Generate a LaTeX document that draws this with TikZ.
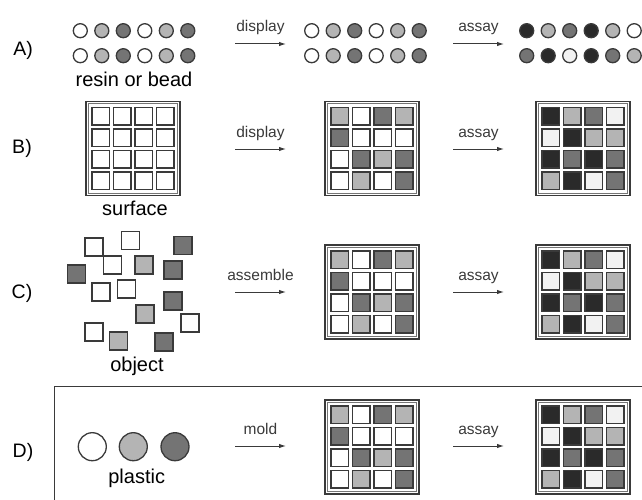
\documentclass[tikz,border=0pt]{standalone}
\usepackage{fontspec}
\setmainfont{Liberation Sans}
\usetikzlibrary{arrows.meta}

\definecolor{lt}{HTML}{B4B4B4}
\definecolor{md}{HTML}{747474}
\definecolor{dk}{HTML}{2A2A2A}
\definecolor{vl}{HTML}{F2F2F2}
\definecolor{ln}{HTML}{3A3A3A}

% one 4x4 plate: name, centre, fill colours row by row
\newcommand{\wellplate}[3]{%
  \node[platebox] (#1) at (#2) {};
  \draw[ln!70, line width=0.6pt] ([shift={(2.3,2.3)}]#1.north west) rectangle ([shift={(-2.3,-2.3)}]#1.south east);
  \foreach \cc [count=\i from 0] in {#3} {
    \pgfmathtruncatemacro\cx{mod(\i,4)}
    \pgfmathtruncatemacro\cy{div(\i,4)}
    \node[cell, fill=\cc] (#1-\i) at ([shift={(14.75+\cx*21.5,14.75+\cy*21.5)}]#1.north west) {};
  }
}

\begin{document}
\begin{tikzpicture}[
x=1pt, y=-1pt,
platebox/.style={draw=ln, line width=1.4pt, minimum size=94pt, inner sep=0pt, outer sep=0pt},
cell/.style={draw=ln, line width=1.4pt, minimum size=17.5pt, inner sep=0pt},
bead/.style={circle, draw=ln, line width=1.3pt, minimum size=14pt, inner sep=0pt},
chip/.style={draw=ln, line width=1.4pt, minimum size=18pt, inner sep=0pt},
pellet/.style={circle, draw=ln, line width=1.3pt, minimum size=28pt, inner sep=0pt},
rowlbl/.style={font=\fontsize{19.5}{22}\selectfont},
matlbl/.style={font=\fontsize{20}{24}\selectfont},
steplbl/.style={font=\fontsize{15.5}{18}\selectfont, anchor=base, yshift=12pt},
arrow/.style={-{Latex[length=7pt,width=4.5pt]}, line width=1pt, ln}
]
\useasboundingbox (0,0) rectangle (642,500);
\clip (0,0) rectangle (642,500);

% row labels
\node[rowlbl] (la) at (23,50) {A)};
\node[rowlbl] (lb) at (22,148) {B)};
\node[rowlbl] (lc) at (22,293) {C)};
\node[rowlbl] (ld) at (23,452) {D)};

% A) beads
\foreach \cc [count=\k from 0] in {white,lt,md,white,lt,md} {
  \node[bead, fill=\cc] (b1-\k) at (80.3+21.5*\k,30.7) {};
  \node[bead, fill=\cc] (b2-\k) at (80.3+21.5*\k,55.7) {};
  \node[bead, fill=\cc] (c1-\k) at (311.7+21.5*\k,30.7) {};
  \node[bead, fill=\cc] (c2-\k) at (311.7+21.5*\k,55.7) {};
}
\foreach \cc [count=\k from 0] in {dk,lt,md,dk,lt,white}
  \node[bead, fill=\cc] (d1-\k) at (526.7+21.5*\k,30.7) {};
\foreach \cc [count=\k from 0] in {md,dk,vl,dk,md,lt}
  \node[bead, fill=\cc] (d2-\k) at (526.7+21.5*\k,55.7) {};
\node[matlbl] (resin) at (134,79) {resin or bead};

% B) surface
\wellplate{s1}{133,148.5}{white,white,white,white,white,white,white,white,white,white,white,white,white,white,white,white}
\node[matlbl] (surf) at (135,208) {surface};

% C) loose objects
\foreach \x/\y/\cc [count=\k] in {94/247/white, 130.5/240.5/white, 183/245.5/md, 112.5/265/white,
  144/265/lt, 173/270/md, 76.5/274/md, 101/292/white, 126.5/289/white, 173/301/md,
  145/314/lt, 190/323/white, 94/332/white, 118.5/341/lt, 164/342/md}
  \node[chip, fill=\cc] (o-\k) at (\x,\y) {};
\node[matlbl] (obj) at (137,366) {object};

% D) plastic
\draw[line width=1.3pt, ln] (54.5,520) |- (700,386.5);
\node[pellet, fill=white] (p1) at (92.3,446.7) {};
\node[pellet, fill=lt] (p2) at (133.3,446.7) {};
\node[pellet, fill=md] (p3) at (175,446.7) {};
\node[matlbl] (plast) at (136.7,478) {plastic};

% plates after display / assemble / mold, and after assay
\foreach \r/\y in {b/148.5, c/292, d/447} {
  \wellplate{m\r}{372,\y}{lt,white,md,lt, md,white,white,white, white,md,lt,md, white,lt,white,md}
  \wellplate{a\r}{583,\y}{dk,lt,md,vl, vl,dk,lt,lt, dk,md,dk,md, lt,dk,vl,md}
}

% arrows
\foreach \r/\y in {a/44, b/149, c/292, d/446} {
  \coordinate (l\r s) at (235,\y);
  \coordinate (l\r e) at (286,\y);
  \coordinate (r\r s) at (453,\y);
  \coordinate (r\r e) at (504,\y);
}
\draw[arrow] (las) -- (lae) node[steplbl, midway] {display};
\draw[arrow] (lbs) -- (lbe) node[steplbl, midway] {display};
\draw[arrow] (lcs) -- (lce) node[steplbl, midway] {assemble};
\draw[arrow] (lds) -- (lde) node[steplbl, midway] {mold};
\foreach \r in {a,b,c,d}
  \draw[arrow] (r\r s) -- (r\r e) node[steplbl, midway] {assay};
\end{tikzpicture}
\end{document}
